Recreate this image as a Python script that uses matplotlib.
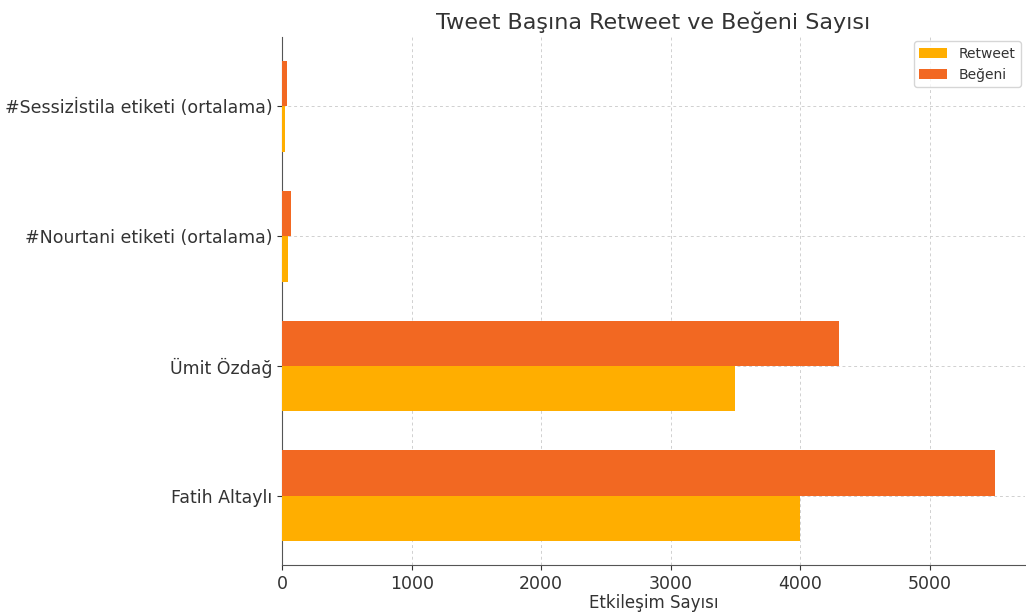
import numpy as np
import matplotlib.pyplot as plt

categories = ["Fatih Altaylı", "Ümit Özdağ", "#Nourtani etiketi (ortalama)", "#Sessizİstila etiketi (ortalama)"]
retweets = [4000, 3500, 45, 25]
likes = [5500, 4300, 65, 35]

plt.rcParams['font.family'] = ['DejaVu Sans']
text_color = '#333333'

fig = plt.figure(figsize=(10.26, 6.15), dpi=100)
ax = fig.add_axes([0.275, 0.081, 0.724, 0.859])

y = np.arange(len(categories))
h = 0.35
ax.barh(y - h / 2, retweets, height=h, color='#FFAE00', label='Retweet', zorder=3)
ax.barh(y + h / 2, likes, height=h, color='#F26822', label='Beğeni', zorder=3)
ax.set_xlim(0, 5735)

ax.set_yticks(y)
ax.set_yticklabels(categories, fontsize=12.5, color=text_color)
ax.tick_params(axis='x', labelsize=12.5, colors=text_color)
ax.tick_params(axis='y', colors=text_color)
ax.set_xlabel('Etkileşim Sayısı', fontsize=12, color=text_color, labelpad=1)
ax.set_title('Tweet Başına Retweet ve Beğeni Sayısı', fontsize=16, color=text_color)

ax.grid(True, linestyle=(0, (3, 3)), color='#d0d0d0', linewidth=0.7, zorder=0)
for s in ['top', 'right']:
    ax.spines[s].set_visible(False)
for s in ['left', 'bottom']:
    ax.spines[s].set_color('#555555')

leg = ax.legend(loc='upper right', fontsize=10, borderaxespad=0.3)
for t in leg.get_texts():
    t.set_color(text_color)

fig.savefig('out.png', dpi=100)
